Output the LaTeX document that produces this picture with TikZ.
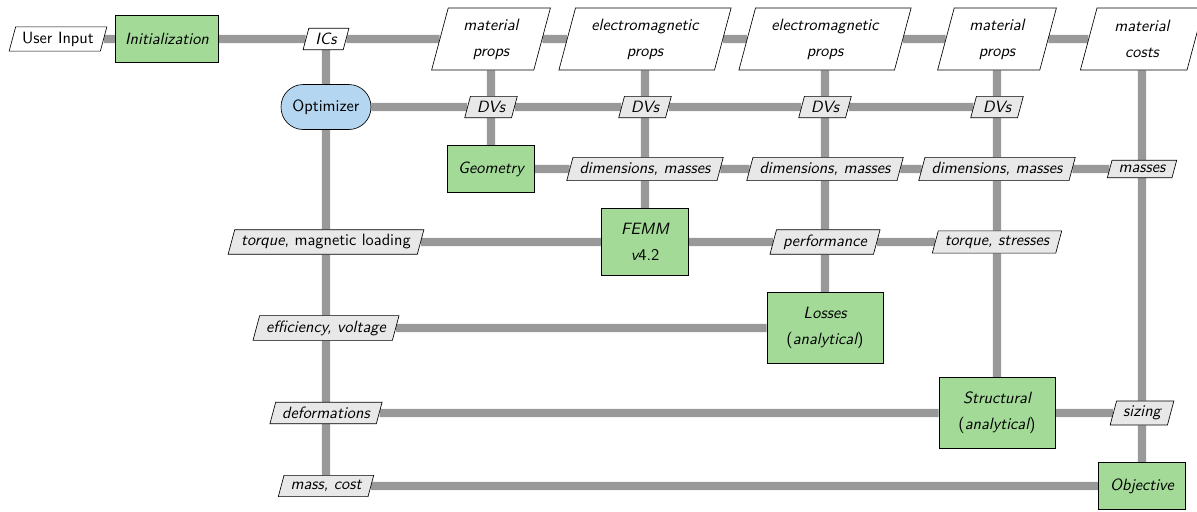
\documentclass[tikz,border=0pt]{standalone}
\usetikzlibrary{shapes.geometric,backgrounds}
\definecolor{fgreen}{RGB}{163,218,152}
\definecolor{oblue}{RGB}{180,214,240}
\definecolor{dgray}{RGB}{232,232,232}
\definecolor{lgray}{RGB}{153,153,153}
\newcommand\dsmfont{\fontsize{10pt}{16pt}\selectfont\sffamily}

\begin{document}
\begin{tikzpicture}[x=0.0215cm,y=-0.0215cm]
\tikzstyle{every node}=[align=center,font=\dsmfont]
\tikzstyle{func}=[draw,rectangle,fill=fgreen,font=\dsmfont\itshape,minimum width=53pt,minimum height=29pt,inner xsep=6pt,inner ysep=9pt]
\tikzstyle{data}=[draw,trapezium,trapezium left angle=75,trapezium right angle=105,fill=dgray,font=\dsmfont\itshape,inner xsep=4pt,inner ysep=3pt]
\tikzstyle{datain}=[data,fill=white]
\tikzstyle{topin}=[datain,inner xsep=8.5pt,inner ysep=6pt,minimum height=38pt]
\tikzstyle{opti}=[draw,rectangle,rounded corners=13.5pt,fill=oblue,minimum width=55pt,minimum height=27.5pt]
\tikzstyle{link}=[line width=5pt,lgray]
\useasboundingbox (0,0) rectangle (1197,511);
% top row
\node[datain,font=\dsmfont](uin) at (58,39) {User Input};
\node[func](init) at (167,39) {Initialization};
\node[datain](ics) at (326,39) {ICs};
\node[topin](in1) at (491,39) {material\\props};
\node[topin](in2) at (645,39) {electromagnetic\\props};
\node[topin](in3) at (825,39) {electromagnetic\\props};
\node[topin](in4) at (997,39) {material\\props};
\node[topin](in5) at (1142,39) {material\\costs};
% optimizer row
\node[opti](opt) at (326,107) {Optimizer};
\node[data](dv1) at (491,107) {DVs};
\node[data](dv2) at (645,107) {DVs};
\node[data](dv3) at (825,107) {DVs};
\node[data](dv4) at (997,107) {DVs};
% geometry row
\node[func](geo) at (491,169) {Geometry};
\node[data](dm1) at (645,169) {dimensions, masses};
\node[data](dm2) at (825,169) {dimensions, masses};
\node[data](dm3) at (997,169) {dimensions, masses};
\node[data](ms) at (1142,169) {masses};
% femm row
\node[data](tml) at (326,242) {torque\upshape, magnetic loading};
\node[func](femm) at (645,242) {FEMM\\v\upshape4.2};
\node[data](perf) at (825,242) {performance};
\node[data](tst) at (997,242) {torque, stresses};
% losses row
\node[data](eff) at (326,328) {efficiency, voltage};
\node[func,minimum width=71pt](loss) at (825,328) {Losses\\\upshape(\itshape analytical\upshape)};
% structural row
\node[data](dfm) at (326,413) {deformations};
\node[func,minimum width=71pt](str) at (997,413) {Structural\\\upshape(\itshape analytical\upshape)};
\node[data](siz) at (1142,413) {sizing};
% objective row
\node[data](mc) at (326,486) {mass, cost};
\node[func](obj) at (1142,486) {Objective};
\begin{scope}[on background layer]
\draw[link] (uin) -- (init) -- (ics) -- (in1) -- (in2) -- (in3) -- (in4) -- (in5);
\draw[link] (opt) -- (dv1) -- (dv2) -- (dv3) -- (dv4);
\draw[link] (geo) -- (dm1) -- (dm2) -- (dm3) -- (ms);
\draw[link] (tml) -- (femm) -- (perf) -- (tst);
\draw[link] (eff) -- (loss);
\draw[link] (dfm) -- (str) -- (siz);
\draw[link] (mc) -- (obj);
\draw[link] (ics) -- (opt) -- (tml) -- (eff) -- (dfm) -- (mc);
\draw[link] (in1) -- (dv1) -- (geo);
\draw[link] (in2) -- (dv2) -- (dm1) -- (femm);
\draw[link] (in3) -- (dv3) -- (dm2) -- (perf) -- (loss);
\draw[link] (in4) -- (dv4) -- (dm3) -- (tst) -- (str);
\draw[link] (in5) -- (ms) -- (siz) -- (obj);
\end{scope}
\end{tikzpicture}
\end{document}
